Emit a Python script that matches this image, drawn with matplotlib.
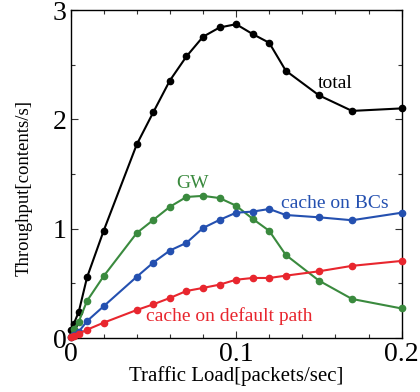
import matplotlib
matplotlib.use("Agg")
import matplotlib.pyplot as plt
from matplotlib.ticker import MultipleLocator

plt.rcParams['font.family'] = ['Liberation Serif', 'DejaVu Serif']
plt.rcParams['mathtext.fontset'] = 'stix'

x_load = [0, 0.002, 0.005, 0.01, 0.02, 0.04, 0.05, 0.06, 0.07, 0.08, 0.09,
          0.10, 0.11, 0.12, 0.13, 0.15, 0.17, 0.20]
total = [0.07, 0.13, 0.24, 0.555, 0.98, 1.77, 2.065, 2.355, 2.575, 2.755, 2.84,
         2.87, 2.78, 2.70, 2.445, 2.22, 2.077, 2.10]
gw = [0.01, 0.08, 0.15, 0.34, 0.565, 0.96, 1.08, 1.20, 1.29, 1.30, 1.28,
      1.21, 1.09, 0.98, 0.76, 0.525, 0.357, 0.27]
bcs = [0.01, 0.03, 0.058, 0.155, 0.29, 0.56, 0.69, 0.80, 0.87, 1.006, 1.08,
       1.146, 1.156, 1.18, 1.125, 1.104, 1.077, 1.146]
default_path = [0.01, 0.02, 0.04, 0.076, 0.14, 0.256, 0.308, 0.366, 0.43, 0.458, 0.488,
                0.533, 0.549, 0.549, 0.57, 0.61, 0.66, 0.705]

series = [
    (total, 'black', 'total', 0.16, 2.33),
    (gw, '#3a8a3e', 'GW', 0.0734, 1.41),
    (bcs, '#2450b0', 'cache on BCs', 0.1595, 1.226),
    (default_path, '#e8262e', 'cache on default path', 0.096, 0.20),
]

fig = plt.figure(figsize=(4.2, 3.92), dpi=100)
ax = fig.add_axes([70.5/420, 1 - 338/392, (401.7-70.5)/420, (338-10)/392])

for ys, c, lab, tx, ty in series:
    ax.plot(x_load, ys, color=c, lw=1.5, marker='o', ms=4.5, zorder=3, clip_on=False)
    ax.text(tx, ty, lab, color=c, fontsize=14, ha='center', va='center')

ax.set_xlim(0, 0.2)
ax.set_ylim(0, 3)
ax.xaxis.set_minor_locator(MultipleLocator(0.02))
ax.yaxis.set_minor_locator(MultipleLocator(0.5))
ax.set_xticks([0, 0.1, 0.2])
ax.set_xticklabels(['0', '0.1', '0.2'])
ax.set_yticks([0, 1, 2, 3])
ax.set_yticklabels(['0', '1', '2', '3'])
ax.tick_params(which='both', direction='in', top=True, right=True, labelsize=20,
               width=0.8, color='#333333')
ax.tick_params(which='major', length=5, pad=3)
ax.tick_params(which='minor', length=3)
for s in ax.spines.values():
    s.set_linewidth(1.0)

ax.set_xlabel('Traffic Load[packets/sec]', fontsize=15, labelpad=-1)
ax.set_ylabel('Throughput[contents/s]', fontsize=13.5, va='center')
ax.yaxis.set_label_coords(-(70.5 - 24) / (401.7 - 70.5), (338 - 188) / 328)

fig.savefig('out.png', dpi=100)
